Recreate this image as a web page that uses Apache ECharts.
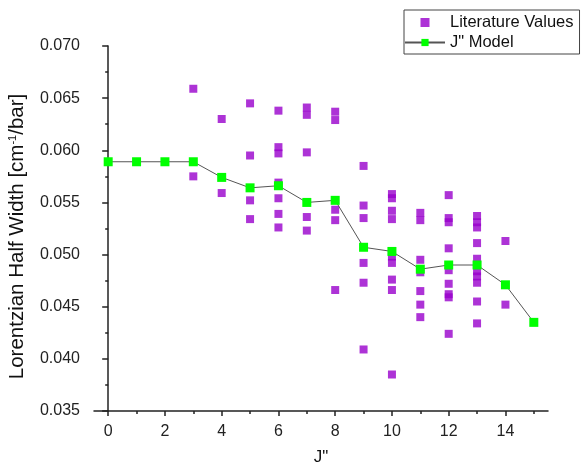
<!DOCTYPE html>
<html>
<head>
<meta charset="utf-8">
<script src="https://cdn.jsdelivr.net/npm/echarts@6/dist/echarts.min.js"></script>
<style>html,body{margin:0;padding:0;background:#fff}#c{width:582px;height:462px}</style>
</head>
<body>
<div id="c"></div>
<script>
// Model values (J" = 0..15)
const modelJ = [0,1,2,3,4,5,6,7,8,9,10,11,12,13,14,15];
const modelValues = [0.0589,0.0589,0.0589,0.0589,0.0574,0.0564,0.0566,0.0550,0.0552,0.0507,0.0503,0.0486,0.0490,0.0490,0.0471,0.0435];

// Literature values, one list per J"
const litJ = [3,4,5,6,7,8,9,10,11,12,13,14];
const litValues = [
  [0.0659,0.0575],
  [0.0630,0.0559],
  [0.0645,0.0595,0.0552,0.0534],
  [0.0638,0.0603,0.0597,0.0569,0.0554,0.0539,0.0526],
  [0.0641,0.0634,0.0598,0.0536,0.0523],
  [0.0637,0.0629,0.0543,0.0533,0.0466],
  [0.0585,0.0547,0.0535,0.0492,0.0473,0.0409],
  [0.0558,0.0554,0.0542,0.0534,0.0503,0.0498,0.0492,0.0476,0.0466,0.0385],
  [0.0540,0.0533,0.0495,0.0483,0.0465,0.0452,0.0440],
  [0.0557,0.0535,0.0531,0.0506,0.0485,0.0472,0.0462,0.0459,0.0424],
  [0.0537,0.0531,0.0526,0.0511,0.0496,0.0490,0.0484,0.0479,0.0473,0.0455,0.0434],
  [0.0513,0.0452]
];

const xMajorTicks = [0,2,4,6,8,10,12,14];
const xMinorTicks = [1,3,5,7,9,11,13,15];

const litData = [];
litJ.forEach((j, i) => litValues[i].forEach(v => litData.push([j, v])));
const modelData = modelJ.map((j, i) => [j, modelValues[i]]);

const font = 'Liberation Sans, Arial, sans-serif';
const chart = echarts.init(document.getElementById('c'), null, {renderer: 'canvas'});
chart.setOption({
  animation: false,
  backgroundColor: '#fff',
  grid: {left: 94, right: 34, top: 46, bottom: 51, containLabel: false, outerBoundsMode: 'none'},
  legend: {
    left: 404, top: 10, orient: 'vertical',
    itemWidth: 40, itemHeight: 9, itemGap: 3,
    padding: [4, 6, 3, 0],
    symbolKeepAspect: true,
    borderColor: '#444', borderWidth: 1, backgroundColor: '#fff',
    textStyle: {fontFamily: font, fontSize: 16.5, color: '#111'},
    data: [
      {name: 'Literature Values', icon: 'path://M0,0h10v10h-10z'},
      'J" Model'
    ]
  },
  xAxis: [{
    type: 'value', min: -0.5, max: 15.5, position: 'bottom',
    name: 'J"', nameLocation: 'middle', nameGap: 38,
    nameTextStyle: {fontFamily: font, fontSize: 17, color: '#111'},
    axisLine: {show: true, lineStyle: {color: '#222', width: 1.5}},
    axisTick: {show: true, length: 5, customValues: xMajorTicks, lineStyle: {color: '#222', width: 1.5}},
    axisLabel: {customValues: xMajorTicks, fontFamily: font, fontSize: 16, color: '#222', margin: 13},
    splitLine: {show: false}
  }, {
    type: 'value', min: -0.5, max: 15.5, position: 'bottom',
    axisLine: {show: false},
    axisTick: {show: true, length: 3, customValues: xMinorTicks, lineStyle: {color: '#222', width: 1.5}},
    axisLabel: {show: false},
    splitLine: {show: false}
  }],
  yAxis: {
    type: 'value', min: 0.035, max: 0.070, interval: 0.005,
    name: 'Lorentzian Half Width [cm{sup|-1}/bar]', nameLocation: 'middle', nameGap: 66,
    nameTextStyle: {fontFamily: font, fontSize: 20.5, color: '#111', padding: [0, 16, 0, 0],
      rich: {sup: {fontFamily: font, fontSize: 11, color: '#111', padding: [0, 0, 10, 0]}}},
    axisLine: {show: true, lineStyle: {color: '#222', width: 1.5}},
    axisTick: {show: true, length: 6, lineStyle: {color: '#222', width: 1.5}},
    minorTick: {show: true, splitNumber: 2, length: 3, lineStyle: {color: '#222', width: 1.5}},
    axisLabel: {fontFamily: font, fontSize: 16, color: '#222', margin: 14,
      formatter: v => v.toFixed(3)},
    splitLine: {show: false}
  },
  series: [{
    name: 'Literature Values', type: 'scatter', xAxisIndex: 0,
    symbol: 'rect', symbolSize: 8,
    itemStyle: {color: '#9900cc', borderWidth: 0},
    data: litData
  }, {
    name: 'J" Model', type: 'line', xAxisIndex: 0,
    symbol: 'rect', symbolSize: 9, showSymbol: true,
    lineStyle: {color: '#555', width: 1},
    itemStyle: {color: '#00ff00', borderWidth: 0},
    data: modelData, z: 3
  }]
});
</script>
</body>
</html>
